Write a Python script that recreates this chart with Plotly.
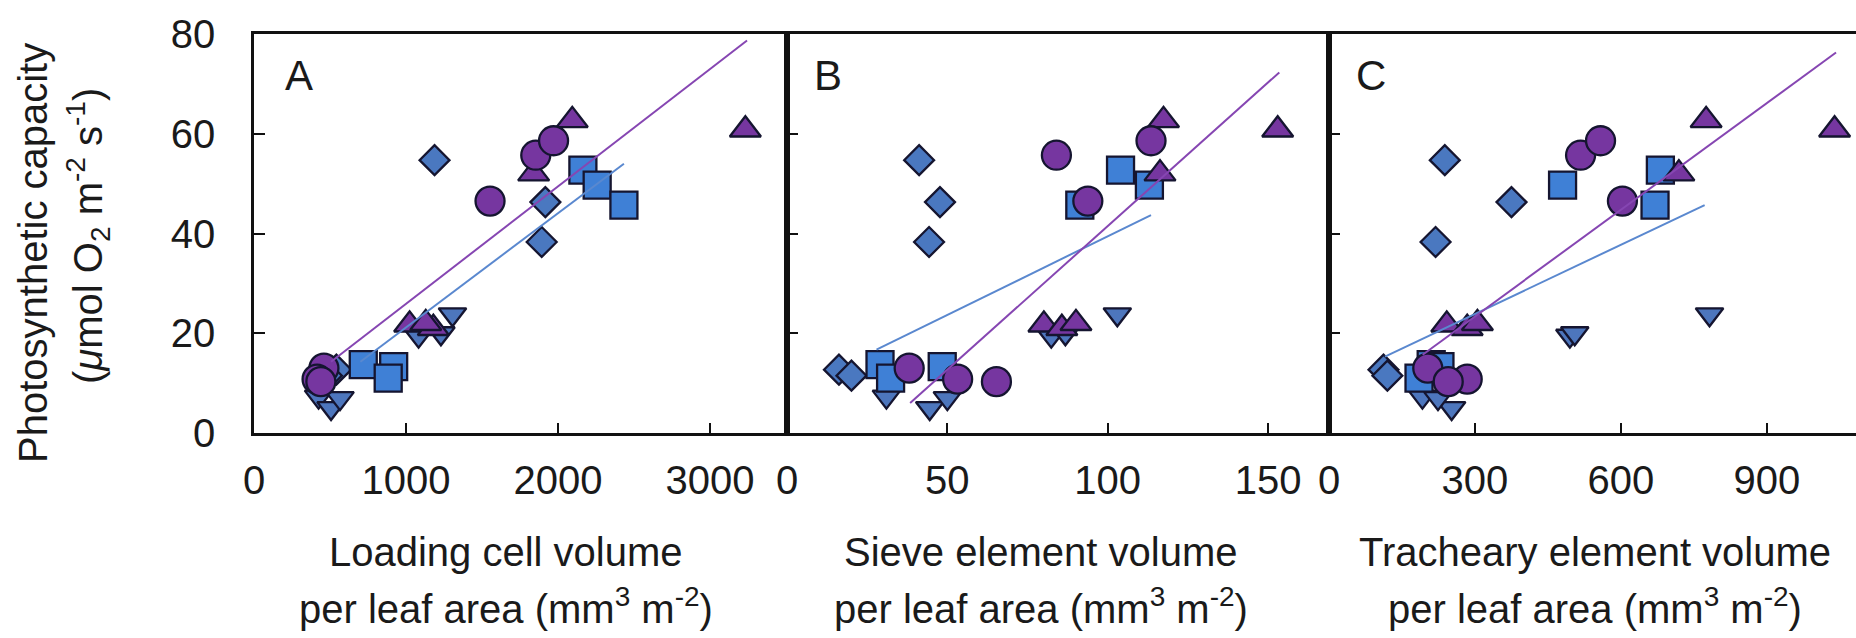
import plotly.graph_objects as go

# ---- data: photosynthetic capacity (shared y) and tissue volumes per panel ----
circle_y = [13.0, 10.8, 10.3, 46.5, 55.7, 58.6]
circle_load = [460, 415, 440, 1553, 1854, 1971]
circle_sieve = [38.1, 53.2, 65.3, 93.8, 84.0, 113.5]
circle_trach = [203, 284, 245, 603, 517, 558]

tri_y = [21.7, 21.0, 22.0, 62.7, 52.0, 60.8]
tri_load = [1024, 1180, 1130, 2094, 1840, 3233]
tri_sieve = [80.1, 85.7, 90.1, 117.4, 116.3, 153.0]
tri_trach = [242, 284, 305, 775, 719, 1039]

square_y = [52.7, 49.7, 45.7, 13.7, 13.3, 11.0]
square_load = [2164, 2258, 2434, 719, 919, 883]
square_sieve = [104.0, 113.0, 91.3, 29.0, 48.4, 32.3]
square_trach = [681, 480, 670, 210, 228, 185]

diamond_y = [54.7, 46.3, 38.3, 12.7, 11.5]
diamond_load = [1188, 1917, 1893, 542, 480]
diamond_sieve = [41.2, 47.7, 44.3, 16.2, 20.1]
diamond_trach = [238, 375, 219, 112, 120]

down_y = [7.3, 5.0, 7.0, 19.5, 23.8, 20.0]
down_load = [425, 507, 566, 1083, 1306, 1230]
down_sieve = [31.0, 44.5, 50.0, 82.4, 103.0, 86.8]
down_trach = [192, 252, 224, 495, 782, 505]

# fitted trend lines (end points)
fit_purple_load_x = [507, 3244]
fit_purple_load_y = [14.3, 78.7]
fit_blue_load_x = [700, 2434]
fit_blue_load_y = [14.3, 54.0]
fit_purple_sieve_x = [38.4, 153.5]
fit_purple_sieve_y = [6.0, 72.3]
fit_blue_sieve_x = [27.9, 113.5]
fit_blue_sieve_y = [16.7, 43.7]
fit_purple_trach_x = [192.5, 1042]
fit_purple_trach_y = [15.7, 76.3]
fit_blue_trach_x = [115, 772]
fit_blue_trach_y = [15.3, 45.7]

y_ticks = [0, 20, 40, 60, 80]
load_ticks = [0, 1000, 2000, 3000]
sieve_ticks = [0, 50, 100, 150]
trach_ticks = [0, 300, 600, 900]

panel_letters = ["A", "B", "C"]
x_title_1 = ["Loading cell volume", "Sieve element volume", "Tracheary element volume"]
x_title_2 = "per leaf area (mm<sup>3</sup> m<sup>-2</sup>)"

# ---- style ----
FONT = "Liberation Sans, Arial, Helvetica, sans-serif"
TXT = "#1a1a1a"
PURPLE = "#7636a0"
BLUE_SQ = "#3f80d6"
BLUE_DI = "#4a78c0"
BLUE_DN = "#4d76bd"
EDGE = "#151530"
LINE_PURPLE = "#8646b2"
LINE_BLUE = "#5a88cf"

W, H = 1856, 638
L, T, B = 254, 34, 205
plot_w = W - L
plot_h = H - T - B


def px_to_paper_x(px):
    return (px - L) / plot_w


def px_to_paper_y(py):
    return (H - B - py) / plot_h


domA = [0, px_to_paper_x(787)]
domB = [px_to_paper_x(787), px_to_paper_x(1329)]
domC = [px_to_paper_x(1329), 1]

fig = go.Figure()

panels = [
    ("x", "y", circle_load, tri_load, square_load, diamond_load, down_load,
     fit_purple_load_x, fit_purple_load_y, fit_blue_load_x, fit_blue_load_y),
    ("x2", "y2", circle_sieve, tri_sieve, square_sieve, diamond_sieve, down_sieve,
     fit_purple_sieve_x, fit_purple_sieve_y, fit_blue_sieve_x, fit_blue_sieve_y),
    ("x3", "y3", circle_trach, tri_trach, square_trach, diamond_trach, down_trach,
     fit_purple_trach_x, fit_purple_trach_y, fit_blue_trach_x, fit_blue_trach_y),
]


def marker(symbol, color, size):
    return dict(symbol=symbol, color=color, size=size,
                line=dict(color=EDGE, width=2.3))


for (xa, ya, cx, tx, sx, dx, vx, fpx, fpy, fbx, fby) in panels:
    fig.add_trace(go.Scatter(x=dx, y=diamond_y, mode="markers", xaxis=xa, yaxis=ya,
                             marker=marker("diamond", BLUE_DI, 23), showlegend=False))
    fig.add_trace(go.Scatter(x=vx, y=down_y, mode="markers", xaxis=xa, yaxis=ya,
                             marker=marker("triangle-down", BLUE_DN, 24), showlegend=False))
    fig.add_trace(go.Scatter(x=sx, y=square_y, mode="markers", xaxis=xa, yaxis=ya,
                             marker=marker("square", BLUE_SQ, 27), showlegend=False))
    fig.add_trace(go.Scatter(x=tx, y=tri_y, mode="markers", xaxis=xa, yaxis=ya,
                             marker=marker("triangle-up", PURPLE, 27), showlegend=False))
    fig.add_trace(go.Scatter(x=cx, y=circle_y, mode="markers", xaxis=xa, yaxis=ya,
                             marker=marker("circle", PURPLE, 29), showlegend=False))
    fig.add_trace(go.Scatter(x=fbx, y=fby, mode="lines", xaxis=xa, yaxis=ya,
                             line=dict(color=LINE_BLUE, width=2), showlegend=False))
    fig.add_trace(go.Scatter(x=fpx, y=fpy, mode="lines", xaxis=xa, yaxis=ya,
                             line=dict(color=LINE_PURPLE, width=2), showlegend=False))

axis_common = dict(showline=True, linecolor="#111111", linewidth=2.5,
                   ticks="inside", tickcolor="#111111", tickwidth=2,
                   showgrid=False, zeroline=False,
                   tickfont=dict(family=FONT, size=40, color=TXT))

fig.update_layout(
    width=W, height=H,
    margin=dict(l=L, r=0, t=T, b=B),
    paper_bgcolor="white", plot_bgcolor="white",
    xaxis=dict(domain=domA, range=[0, 3507], tickvals=load_ticks, ticklen=10,
               mirror=True, anchor="y", ticklabelstandoff=10, **axis_common),
    xaxis2=dict(domain=domB, range=[0, 169], tickvals=sieve_ticks, ticklen=10,
                mirror=True, anchor="y2", ticklabelstandoff=10, **axis_common),
    xaxis3=dict(domain=domC, range=[0, 1083], tickvals=trach_ticks, ticklen=10,
                mirror=True, anchor="y3", ticklabelstandoff=10, **axis_common),
    yaxis=dict(domain=[0, 1], range=[0, 80], tickvals=y_ticks, ticklen=11,
               mirror=True, anchor="x", ticklabelstandoff=28, **axis_common),
    yaxis2=dict(domain=[0, 1], range=[0, 80], tickvals=y_ticks, ticklen=11,
                mirror=True, anchor="x2", showticklabels=False, **axis_common),
    yaxis3=dict(domain=[0, 1], range=[0, 80], tickvals=y_ticks, ticklen=11,
                mirror=False, anchor="x3", showticklabels=False, **axis_common),
)

annotations = []
letter_px = [299, 828, 1371]
for letter, px in zip(panel_letters, letter_px):
    annotations.append(dict(text=letter, x=px_to_paper_x(px), y=px_to_paper_y(75),
                            xref="paper", yref="paper", showarrow=False,
                            xanchor="center", yanchor="middle",
                            font=dict(family=FONT, size=42, color=TXT)))

title_px = [506, 1041, 1595]
for t1, px in zip(x_title_1, title_px):
    annotations.append(dict(text=t1, x=px_to_paper_x(px), y=px_to_paper_y(552),
                            xref="paper", yref="paper", showarrow=False,
                            xanchor="center", yanchor="middle",
                            font=dict(family=FONT, size=40, color=TXT)))
    annotations.append(dict(text=x_title_2, x=px_to_paper_x(px), y=px_to_paper_y(606),
                            xref="paper", yref="paper", showarrow=False,
                            xanchor="center", yanchor="middle",
                            font=dict(family=FONT, size=40, color=TXT)))

annotations.append(dict(text="Photosynthetic capacity", x=px_to_paper_x(33),
                        y=px_to_paper_y(253), xref="paper", yref="paper",
                        showarrow=False, textangle=-90,
                        xanchor="center", yanchor="middle",
                        font=dict(family=FONT, size=40, color=TXT)))
annotations.append(dict(text="(<i>μ</i>mol O<sub>2</sub> m<sup>-2</sup> s<sup>-1</sup>)",
                        x=px_to_paper_x(88), y=px_to_paper_y(236),
                        xref="paper", yref="paper", showarrow=False, textangle=-90,
                        xanchor="center", yanchor="middle",
                        font=dict(family=FONT, size=40, color=TXT)))

fig.update_layout(annotations=annotations)

fig.write_html("out.html")
